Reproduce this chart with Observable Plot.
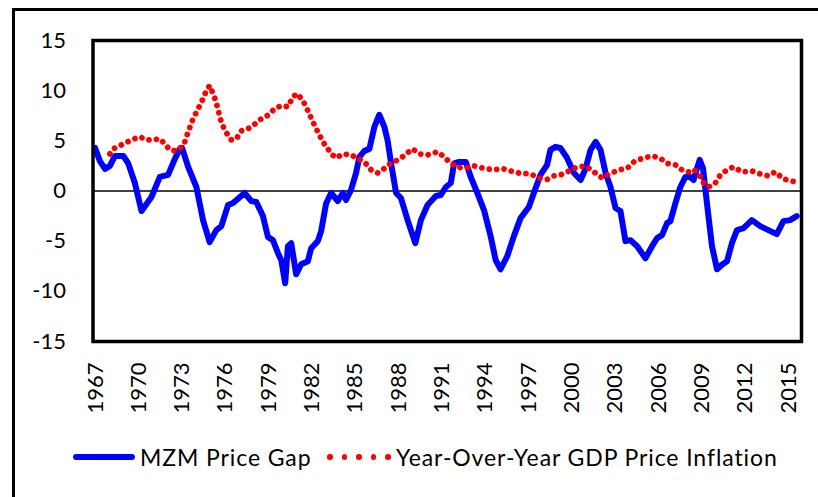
<!DOCTYPE html>
<html><head><meta charset="utf-8">
<script src="https://cdn.jsdelivr.net/npm/d3@7"></script>
<script src="https://cdn.jsdelivr.net/npm/@observablehq/plot@0.6"></script>
<style>
html,body{margin:0;padding:0;background:#fff;overflow:hidden;width:818px;height:497px;}
#outer{position:absolute;left:12px;top:8px;width:900px;height:600px;border-left:3.5px solid #000;border-top:3.5px solid #000;}
#chart{position:absolute;left:0;top:0;}
#legend{position:absolute;left:0;top:0;width:818px;height:1px;font-family:Lato,sans-serif;color:#000;}
.sw-line{position:absolute;left:73px;top:454px;width:62px;height:6px;border-radius:3px;background:#0000ff;}
.dot{position:absolute;top:454px;width:5.5px;height:5.5px;border-radius:50%;background:#ff0000;}
.lab{position:absolute;top:444px;font-family:Lato,sans-serif;font-size:23px;letter-spacing:0.9px;line-height:27px;white-space:nowrap;}
</style></head>
<body>
<div id="outer"></div>
<div id="chart"></div>
<div id="legend"></div>
<script>
const tickYears = [1967,1970,1973,1976,1979,1982,1985,1988,1991,1994,1997,2000,2003,2006,2009,2012,2015];
const yTicks = [-15,-10,-5,0,5,10,15];
const seriesNames = ["MZM Price Gap", "Year-Over-Year GDP Price Inflation"];

const mzmYear = [1966.97,1967.3,1967.66,1968.0,1968.35,1968.93,1969.27,1969.73,1970.19,1970.88,1971.46,1972.03,1972.5,1972.84,1973.0,1973.42,1973.99,1974.45,1974.91,1975.37,1975.72,1976.18,1976.53,1977.33,1977.79,1978.14,1978.6,1978.95,1979.29,1979.64,1979.87,1980.14,1980.33,1980.56,1980.9,1981.25,1981.71,1981.94,1982.4,1982.63,1982.98,1983.09,1983.32,1983.78,1984.13,1984.36,1984.7,1985.05,1985.28,1985.63,1985.97,1986.32,1986.66,1987.01,1987.24,1987.47,1987.82,1988.16,1988.62,1989.15,1989.54,1990.0,1990.58,1990.92,1991.27,1991.61,1991.84,1992.19,1992.65,1992.99,1993.45,1993.91,1994.37,1994.72,1995.06,1995.52,1995.98,1996.44,1997.02,1997.36,1997.82,1998.28,1998.51,1998.86,1999.2,1999.66,2000.14,2000.6,2000.95,2001.29,2001.64,2001.98,2002.33,2002.67,2003.02,2003.36,2003.71,2004.06,2004.52,2005.09,2005.55,2005.9,2006.24,2006.59,2006.82,2007.17,2007.51,2007.86,2008.2,2008.43,2008.66,2008.85,2009.08,2009.35,2009.7,2010.05,2010.39,2010.74,2011.08,2011.43,2011.89,2012.46,2013.04,2013.61,2014.19,2014.65,2015.11,2015.57];
const mzmValue = [4.3,3.0,2.2,2.5,3.5,3.5,2.75,0.8,-2.0,-0.6,1.4,1.6,3.2,4.2,4.3,2.4,0.4,-2.9,-5.1,-3.9,-3.5,-1.4,-1.2,-0.2,-1.0,-1.1,-2.5,-4.6,-4.9,-6.2,-6.9,-9.2,-5.5,-5.2,-8.3,-7.3,-7.0,-5.7,-5.0,-4.0,-1.2,-0.9,-0.2,-1.0,-0.2,-0.9,0.1,1.8,3.4,4.0,4.2,6.4,7.6,6.4,5.0,2.8,-0.2,-0.7,-2.9,-5.2,-2.9,-1.4,-0.5,-0.4,0.4,0.8,2.75,2.9,2.9,1.4,-0.2,-1.9,-4.5,-6.9,-7.8,-6.5,-4.5,-2.7,-1.6,-0.2,1.6,2.6,4.1,4.4,4.3,3.3,1.8,1.1,2.25,4.1,4.9,4.1,1.8,0.4,-1.7,-2.0,-5.0,-4.9,-5.5,-6.7,-5.5,-4.7,-4.4,-3.2,-3.0,-1.2,0.4,1.4,1.4,1.1,2.25,3.1,2.25,-1.2,-5.5,-7.8,-7.35,-7.0,-5.2,-3.9,-3.7,-2.9,-3.5,-3.9,-4.3,-3.0,-2.9,-2.5];

const gdpYear = [1968.0,1968.23,1968.81,1969.5,1970.07,1970.53,1970.99,1971.45,1971.8,1972.15,1972.49,1972.84,1973.19,1973.42,1973.76,1974.11,1974.45,1974.68,1974.91,1975.21,1975.44,1975.67,1975.95,1976.41,1976.76,1977.1,1977.56,1978.02,1978.49,1978.95,1979.41,1979.87,1980.33,1980.68,1980.98,1981.37,1981.71,1982.06,1982.4,1982.75,1983.1,1983.32,1983.67,1984.13,1984.7,1985.16,1985.63,1986.09,1986.55,1987.01,1987.47,1988.05,1988.51,1988.97,1989.43,1990.0,1990.69,1991.15,1991.61,1992.07,1992.53,1993.22,1993.91,1994.6,1995.18,1995.75,1996.44,1997.13,1997.7,1998.28,1998.74,1999.2,1999.68,2000.37,2000.95,2001.52,2002.1,2002.67,2003.25,2003.82,2004.29,2004.86,2005.55,2006.13,2006.59,2007.17,2007.63,2008.09,2008.43,2008.78,2009.12,2009.47,2009.93,2010.28,2010.74,2011.2,2011.78,2012.46,2013.04,2013.61,2014.07,2014.65,2015.34];
const gdpValue = [3.7,4.2,4.6,5.1,5.4,5.1,5.1,5.2,4.7,4.1,4.0,4.2,4.9,5.9,7.2,8.2,9.2,10.0,10.5,9.5,8.4,7.1,6.05,5.1,5.2,6.0,6.2,6.65,7.2,7.55,8.2,8.5,8.4,9.4,9.7,9.0,8.0,6.9,5.9,4.9,4.2,3.7,3.3,3.7,3.6,3.25,2.9,2.1,1.8,2.25,2.8,3.15,3.7,4.2,3.7,3.6,3.9,3.4,2.75,2.4,2.25,2.5,2.25,2.1,2.25,2.0,1.75,1.7,1.3,1.15,1.5,1.6,1.9,2.4,2.5,1.9,1.3,1.75,2.1,2.25,2.9,3.25,3.5,3.25,2.75,2.6,2.1,1.9,2.15,1.7,0.8,0.4,0.8,1.6,2.1,2.4,1.9,2.0,1.7,1.5,1.9,1.2,0.95];

const mzm = mzmYear.map((t,i)=>({t, v: mzmValue[i]}));
const gdp = gdpYear.map((t,i)=>({t, v: gdpValue[i]}));

const W = 818, H = 425;
const chart = Plot.plot({
  width: W, height: H,
  marginLeft: 92.5, marginRight: 17, marginTop: 40, marginBottom: H - 341,
  style: {fontFamily: "Lato, sans-serif", fontSize: "22px", color: "#000", background: "transparent"},
  x: {domain: [1966.83, 2015.9]},
  y: {domain: [-15, 15]},
  marks: [
    Plot.axisY({ticks: yTicks, tickSize: 0, tickPadding: 27, label: null, fontSize: 22, tickFormat: d => String(d)}),
    Plot.axisX({ticks: tickYears, tickSize: 0, tickPadding: 21, tickRotate: -90, tickFormat: d => String(d), label: null, fontSize: 22}),
    Plot.ruleY([0], {stroke: "#000", strokeWidth: 1.5}),
    Plot.line(mzm, {x: "t", y: "v", stroke: "#0000ff", strokeWidth: 6, strokeLinejoin: "round", strokeLinecap: "round"}),
    Plot.line(gdp, {x: "t", y: "v", stroke: "#ff0000", strokeWidth: 5.8, strokeDasharray: "0.01 7.5", strokeLinecap: "round"}),
    Plot.frame({stroke: "#000", strokeWidth: 3.5})
  ]
});
document.getElementById("chart").appendChild(chart);

const lg = document.getElementById("legend");
lg.innerHTML = `<div class="sw-line"></div><div class="lab" style="left:140px">${seriesNames[0]}</div>` +
  [330,344.5,359,373.5,388].map(x=>`<div class="dot" style="left:${x-2.75}px"></div>`).join("") +
  `<div class="lab" style="left:396px">${seriesNames[1]}</div>`;
</script>
</body></html>
